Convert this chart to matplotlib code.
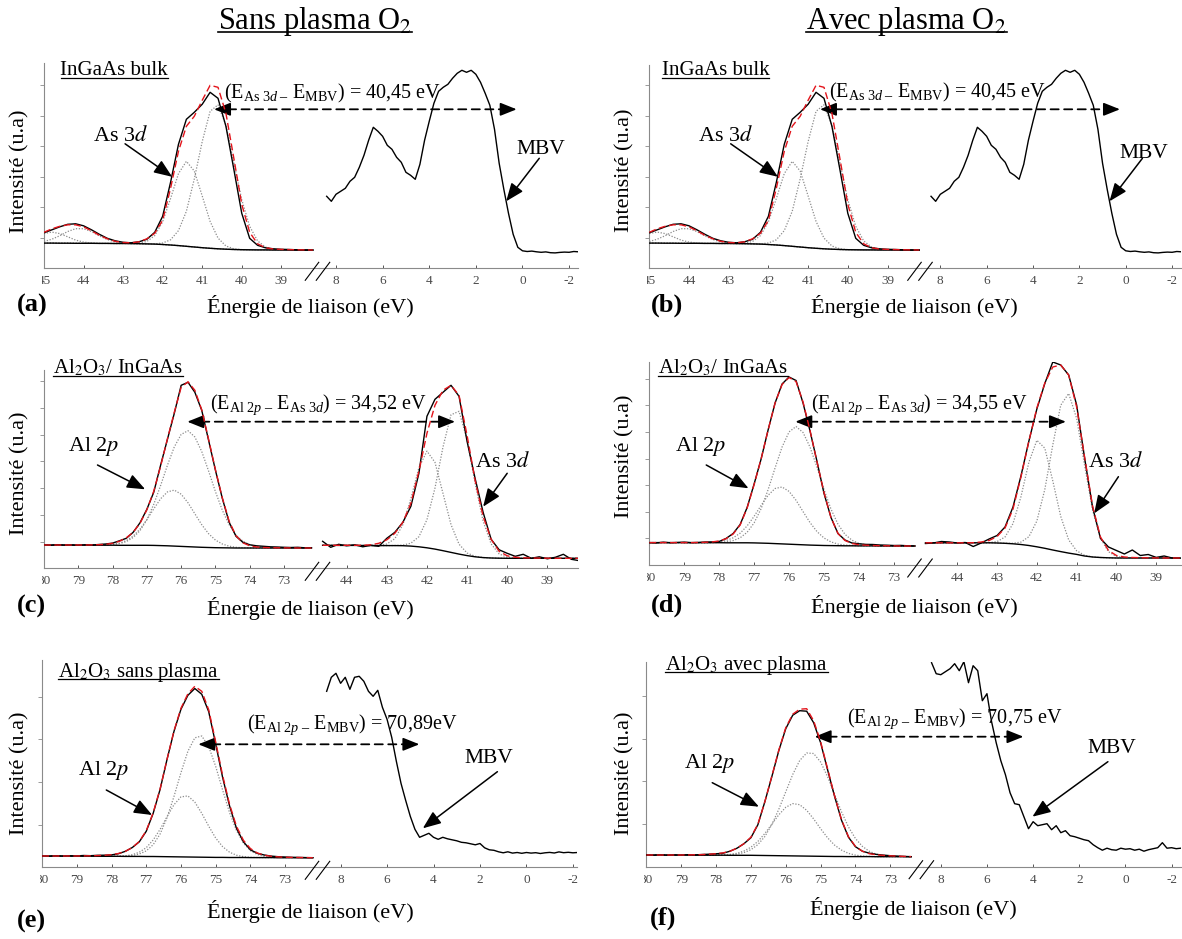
import numpy as np
import matplotlib
matplotlib.use("Agg")
import matplotlib.pyplot as plt
from matplotlib.lines import Line2D
from matplotlib.transforms import IdentityTransform, Bbox

plt.rcParams.update({
    "font.family": ["Liberation Serif", "DejaVu Serif"],
    "mathtext.fontset": "custom",
    "mathtext.rm": "Liberation Serif",
    "mathtext.it": "Liberation Serif:italic",
    "mathtext.bf": "Liberation Serif:bold",
    "axes.unicode_minus": False,
})

# ---------------------------------------------------------------------------
# XPS data (intensities in arbitrary units)
# ---------------------------------------------------------------------------

# InGaAs bulk reference : As 3d core level
E_AS3D_BULK = np.linspace(45.0, 38.2, 35)
as3d_bulk_raw = [35.5, 38.5, 41.5, 44.0, 44.5, 42.5, 38.5, 34.0, 30.0, 27.5,
                 26.0, 25.5, 26.5, 29.0, 36.0, 52.0, 86.0, 124.0, 149.0, 156.0,
                 164.0, 176.0, 170.0, 142.0, 99.0, 55.0, 30.0, 23.0, 20.5, 19.5,
                 19.0, 18.8, 18.5, 18.3, 18.3]
as3d_bulk_fit = [36.0, 39.5, 42.0, 43.5, 43.5, 41.5, 37.5, 33.0, 29.5, 27.0,
                 25.8, 25.5, 26.5, 29.5, 35.0, 48.0, 80.0, 117.0, 142.0, 152.0,
                 168.0, 183.0, 181.0, 155.0, 110.0, 64.0, 36.0, 24.5, 20.5, 19.3,
                 18.9, 18.7, 18.5, 18.4, 18.3]
as3d_bulk_bg = [25.2, 25.2, 25.1, 25.1, 25.0, 25.0, 25.0, 24.9, 24.9, 24.8,
                24.8, 24.7, 24.6, 24.4, 24.2, 23.8, 23.3, 22.7, 22.0, 21.3,
                20.6, 20.0, 19.5, 19.1, 18.8, 18.6, 18.5, 18.4, 18.4, 18.3,
                18.3, 18.3, 18.2, 18.2, 18.2]
as3d_bulk_d52 = [0, 0, 0, 0, 0, 0, 0, 0, 0, 0, 0, 0, 0, 0.1, 0.3, 1.5, 5.2, 15,
                 35, 68, 106, 137, 144, 124, 87, 50, 23.5, 9, 2.8, 0.7, 0.1,
                 0, 0, 0, 0]
as3d_bulk_d32 = [0, 0, 0, 0, 0, 0, 0, 0, 0, 0, 0, 0.1, 0.6, 2.4, 8.5, 22.7,
                 46.5, 72, 85, 76, 51.8, 26.9, 10.7, 3.2, 0.7, 0.1, 0, 0, 0, 0,
                 0, 0, 0, 0, 0]
as3d_bulk_ox1 = [1.6, 3.9, 7.5, 11.7, 14.6, 14.6, 11.7, 7.5, 3.9, 1.6, 0.5, 0.1,
                 0, 0, 0, 0, 0, 0, 0, 0, 0, 0, 0, 0, 0, 0, 0, 0, 0, 0, 0, 0, 0,
                 0, 0]
as3d_bulk_ox2 = [9.6, 11.0, 9.6, 6.4, 3.2, 1.2, 0.4, 0.1, 0, 0, 0, 0, 0, 0, 0,
                 0, 0, 0, 0, 0, 0, 0, 0, 0, 0, 0, 0, 0, 0, 0, 0, 0, 0, 0, 0]

# InGaAs bulk reference : valence band
E_VB_BULK = np.linspace(8.4, -2.4, 55)
vb_bulk = [72, 67, 74, 77, 80, 87, 91, 101, 113, 128,
           141, 137, 132, 123, 119, 111, 106, 96, 93, 89,
           104, 128, 147, 165, 177, 181, 184, 190, 195, 198,
           196, 198, 194, 186, 175, 163, 139, 105, 79, 55,
           34, 21, 17.5, 16.8, 17.2, 16.5, 16.0, 16.4, 15.6, 15.4,
           15.9, 16.2, 16.0, 16.8, 16.5]

# Al2O3 / InGaAs without plasma : Al 2p
E_AL2P_C = np.linspace(80.0, 72.2, 40)
al2p_c_raw = [23.5, 23.0, 23.6, 23.2, 23.4, 23.0, 23.5, 23.3, 23.8, 24.3,
              25.2, 27.5, 30.0, 36.0, 45.5, 59.0, 76.0, 103.0, 129.0, 155.0,
              183.0, 186.0, 176.0, 158.0, 128.0, 98.0, 70.0, 46.0, 32.0, 26.0,
              23.5, 22.5, 22.0, 21.5, 21.3, 21.0, 20.8, 21.0, 20.5, 20.6]
al2p_c_fit = [23.3, 23.3, 23.3, 23.3, 23.3, 23.3, 23.3, 23.4, 23.6, 24.0,
              25.0, 27.0, 30.5, 36.0, 45.0, 58.5, 77.0, 102.0, 129.5, 156.0,
              181.0, 186.5, 178.0, 158.5, 129.0, 98.5, 70.5, 47.0, 32.5, 25.5,
              22.5, 21.3, 20.8, 20.6, 20.5, 20.4, 20.4, 20.3, 20.3, 20.3]
al2p_c_bg = [23.3, 23.3, 23.3, 23.2, 23.2, 23.2, 23.2, 23.1, 23.1, 23.1,
             23.1, 23.0, 23.0, 23.0, 23.0, 23.0, 22.9, 22.7, 22.5, 22.2,
             21.9, 21.6, 21.3, 21.0, 20.8, 20.6, 20.5, 20.4, 20.3, 20.3,
             20.3, 20.3, 20.3, 20.3, 20.3, 20.3, 20.3, 20.3, 20.3, 20.3]
al2p_c_comp1 = [0, 0, 0, 0, 0, 0, 0, 0, 0, 0.25, 0.7, 1.7, 3.7, 7.8, 14.7,
                25.6, 41, 60, 80.6, 99.2, 112, 116, 110, 95.8, 76.5, 56, 37.6,
                23.1, 13, 6.8, 3.2, 1.4, 0.6, 0.2, 0.1, 0, 0, 0, 0, 0]
al2p_c_comp2 = [0, 0, 0, 0, 0, 0, 0, 0, 0, 0.3, 0.9, 2.2, 4.7, 9.2, 16.2,
                25.6, 36.5, 46.8, 53.9, 56, 52.2, 43.9, 33.2, 22.6, 13.8, 7.6,
                3.8, 1.7, 0.7, 0.3, 0.1, 0, 0, 0, 0, 0, 0, 0, 0, 0]

# Al2O3 / InGaAs without plasma : As 3d
E_AS3D_C = np.linspace(44.6, 38.2, 33)
as3d_c_raw = [27, 21, 24, 22.5, 23.5, 21.5, 23, 22, 30, 36,
              46, 62, 95, 152, 169, 176, 183, 172, 127, 90,
              56, 29, 18.5, 15, 12, 14, 10, 11.5, 9.5, 11,
              14, 9, 7.6]
as3d_c_fit = [23, 23, 23, 23, 23, 23, 23.5, 25, 28.5, 35,
              46, 65, 97, 135, 163, 178, 183, 173, 133, 88,
              52, 29, 17, 12.5, 11, 10.5, 10.3, 10.2, 10.1, 10,
              10, 10, 10]
as3d_c_bg = [23.0, 23.0, 22.9, 22.9, 22.9, 22.8, 22.8, 22.7, 22.7, 22.7,
             22.6, 22.2, 21.5, 20.5, 19.2, 17.6, 15.9, 14.2, 12.7, 11.5,
             10.7, 10.3, 10.1, 10.0, 10.0, 10.0, 10.0, 10.0, 10.0, 10.0,
             10.0, 10.0, 10.0]
as3d_c_d52 = [0, 0, 0, 0, 0, 0, 0, 0, 0, 0.1, 0.6, 2.9, 10.1, 28.1, 61, 103.7,
              137.6, 142.8, 116, 73.5, 36.4, 14.1, 4.3, 1.0, 0.2, 0, 0, 0, 0,
              0, 0, 0, 0]
as3d_c_d32 = [0, 0, 0, 0, 0, 0, 0, 0.3, 1.6, 6.9, 21, 47.6, 79.2, 96.7, 86.8,
              57.3, 27.8, 9.9, 2.6, 0.5, 0.1, 0, 0, 0, 0, 0, 0, 0, 0, 0, 0, 0,
              0]

# Al2O3 / InGaAs with plasma : Al 2p
E_AL2P_D = np.linspace(80.0, 72.4, 39)
al2p_d_raw = [22.3, 22.0, 22.8, 22.2, 22.5, 22.9, 22.4, 22.6, 23.0, 23.1,
              23.5, 26.6, 31.5, 40.5, 57.5, 81.0, 106.0, 135.0, 162.0, 181.0,
              188.0, 184.5, 162.0, 134.0, 103.5, 71.6, 47.5, 31.5, 25.0, 22.0,
              21.2, 20.6, 20.5, 20.0, 19.8, 19.5, 19.6, 19.2, 19.0]
al2p_d_fit = [22.4, 22.4, 22.4, 22.4, 22.4, 22.4, 22.4, 22.5, 22.7, 23.1,
              24.0, 26.3, 31.0, 40.0, 57.0, 80.5, 106.0, 135.0, 162.0, 180.5,
              187.5, 183.5, 163.0, 134.5, 103.0, 72.5, 47.5, 31.5, 24.5, 21.5,
              20.3, 19.8, 19.5, 19.3, 19.2, 19.1, 19.0, 19.0, 19.0]
al2p_d_bg = [22.4, 22.4, 22.4, 22.4, 22.4, 22.3, 22.3, 22.3, 22.3, 22.3,
             22.3, 22.2, 22.2, 22.2, 22.2, 22.1, 21.9, 21.7, 21.4, 21.1,
             20.8, 20.5, 20.2, 19.9, 19.7, 19.5, 19.4, 19.3, 19.2, 19.2,
             19.1, 19.1, 19.1, 19.0, 19.0, 19.0, 19.0, 19.0, 19.0]
al2p_d_comp1 = [0, 0, 0, 0, 0, 0, 0, 0, 0, 0, 0.3, 0.9, 2.2, 5.0, 10.5, 20,
                34.4, 53.6, 75.7, 96.9, 112.3, 118, 112.3, 98, 78, 56, 36.5,
                21.5, 11.5, 5.6, 2.5, 1.0, 0.4, 0, 0, 0, 0, 0, 0]
al2p_d_comp2 = [0, 0, 0, 0, 0, 0, 0, 0, 0, 0.4, 1.0, 2.3, 5.0, 9.6, 16.9,
                26.6, 37.7, 48, 55.1, 56.9, 52.8, 44.2, 33.2, 22.5, 13.7, 7.5,
                3.7, 1.6, 0.7, 0.3, 0.1, 0, 0, 0, 0, 0, 0, 0, 0]

# Al2O3 / InGaAs with plasma : As 3d
E_AS3D_D = np.linspace(44.8, 38.4, 33)
as3d_d_raw = [21.5, 22.0, 23.5, 23.0, 22.0, 22.5, 18.5, 22.0, 26.0, 29.5,
              38.0, 58.0, 89.0, 124.0, 156.0, 181.5, 203.0, 200.0, 190.0, 160.0,
              107.0, 58.0, 26.5, 18.0, 14.5, 11.0, 15.0, 9.5, 10.5, 7.6,
              9.0, 7.0, 6.8]
as3d_d_fit = [22.2, 22.2, 22.2, 22.2, 22.2, 22.2, 22.3, 23.0, 24.5, 28.5,
              37.0, 56.0, 88.0, 124.0, 157.0, 182.0, 198.0, 200.0, 190.0, 158.0,
              108.0, 59.0, 28.0, 14.5, 9.5, 8.0, 7.5, 7.3, 7.2, 7.1,
              7.0, 7.0, 7.0]
as3d_d_bg = [22.2, 22.2, 22.2, 22.2, 22.2, 22.2, 22.2, 22.2, 22.2, 22.0,
             21.7, 21.2, 20.5, 19.5, 18.2, 16.7, 15.0, 13.4, 11.9, 10.6,
             9.0, 8.0, 7.5, 7.2, 7.0, 7.0, 7.0, 7.0, 7.0, 7.0,
             7.0, 7.0, 7.0]
as3d_d_d52 = [0, 0, 0, 0, 0, 0, 0, 0, 0, 0, 0.1, 0.5, 2.4, 8.8, 25.8, 58.9,
              105, 146.4, 159.6, 136, 90.6, 47.2, 19.2, 6.1, 1.5, 0.3, 0, 0,
              0, 0, 0, 0, 0]
as3d_d_d32 = [0, 0, 0, 0, 0, 0, 0, 0, 0.2, 1.4, 6.3, 20.2, 47.8, 83.3, 106.5,
              100.1, 69.2, 35.2, 13.2, 3.6, 0.7, 0.1, 0, 0, 0, 0, 0, 0, 0, 0,
              0, 0, 0]

# Al2O3 without plasma : Al 2p
E_AL2P_E = np.linspace(80.0, 72.2, 40)
al2p_e_raw = [11.3, 11.0, 11.6, 11.2, 11.5, 11.4, 11.8, 11.6, 12.0, 12.1,
              12.4, 13.6, 16.0, 19.8, 25.5, 36.0, 54.0, 78.0, 108.0, 136.0,
              158.0, 172.0, 178.8, 173.0, 155.6, 123.5, 90.0, 61.5, 39.0, 25.5,
              17.5, 14.0, 12.3, 11.2, 10.6, 10.3, 10.0, 9.9, 9.7, 9.6]
al2p_e_fit = [11.3, 11.3, 11.3, 11.3, 11.3, 11.3, 11.4, 11.5, 11.7, 12.0,
              12.6, 13.8, 16.0, 19.8, 25.8, 36.5, 54.5, 78.5, 108.0, 136.5,
              159.0, 173.5, 181.0, 176.0, 157.5, 125.5, 92.0, 63.0, 41.0, 27.0,
              18.8, 14.3, 12.1, 11.0, 10.4, 10.1, 9.9, 9.8, 9.7, 9.6]
al2p_e_bg = [11.3, 11.3, 11.2, 11.2, 11.2, 11.1, 11.1, 11.1, 11.0, 11.0,
             11.0, 11.0, 10.9, 10.9, 10.9, 10.8, 10.8, 10.7, 10.6, 10.5,
             10.4, 10.3, 10.2, 10.1, 10.0, 9.9, 9.9, 9.8, 9.8, 9.8,
             9.7, 9.7, 9.7, 9.7, 9.6, 9.6, 9.6, 9.6, 9.6, 9.6]
al2p_e_comp1 = [0, 0, 0, 0, 0, 0, 0, 0, 0, 0, 0, 0.1, 0.3, 0.9, 2.4, 5.6, 11.8,
                22.6, 39, 60.4, 84.2, 105.7, 119.3, 121.2, 110.8, 91.1, 67.5,
                44.9, 27, 14.5, 7.0, 3.1, 1.2, 0.4, 0.1, 0, 0, 0, 0, 0]
al2p_e_comp2 = [0, 0, 0, 0, 0, 0, 0, 0, 0, 0, 0.1, 0.2, 0.6, 1.7, 4.2, 8.8,
                16.5, 27.3, 40.1, 52.1, 60, 61.1, 55, 43.9, 31.1, 19.4, 10.8,
                5.3, 2.3, 0.9, 0.3, 0.1, 0, 0, 0, 0, 0, 0, 0, 0]

# Al2O3 without plasma : valence band
E_VB_E = np.linspace(8.6, -2.2, 55)
vb_e = [176, 190, 194, 184, 190, 178, 190, 191, 186, 176,
        171, 177, 160, 148, 130, 106, 84, 67, 51, 38,
        30, 32, 34, 30, 28, 30, 28.5, 27.5, 26.5, 25,
        24.5, 23.5, 22.5, 23.8, 19.5, 17.5, 17, 15.5, 14.5, 15.5,
        14.2, 14.8, 14.0, 14.8, 14.2, 14.6, 13.8, 14.5, 14.9, 14.3,
        15.4, 14.6, 15.0, 14.5, 14.8]

# Al2O3 with plasma : Al 2p
E_AL2P_F = np.linspace(80.0, 72.4, 39)
al2p_f_raw = [11.7, 11.4, 11.9, 11.5, 11.8, 11.6, 12.0, 11.8, 12.2, 12.5,
              12.9, 13.5, 15.5, 18.5, 23.0, 29.0, 42.0, 65.0, 90.0, 116.0,
              138.0, 151.5, 156.0, 155.5, 144.0, 124.0, 97.0, 70.5, 46.5, 29.5,
              20.0, 15.5, 13.5, 12.3, 11.6, 11.0, 10.6, 10.3, 10.0]
al2p_f_fit = [11.7, 11.7, 11.7, 11.7, 11.7, 11.7, 11.8, 11.9, 12.1, 12.5,
              13.0, 13.8, 15.5, 18.5, 23.0, 29.5, 42.5, 65.0, 90.5, 116.5,
              139.0, 152.5, 157.5, 158.0, 146.0, 125.0, 98.0, 71.0, 47.0, 30.0,
              20.3, 15.4, 13.0, 11.9, 11.3, 10.9, 10.6, 10.3, 10.1]
al2p_f_bg = [11.7, 11.7, 11.7, 11.6, 11.6, 11.6, 11.6, 11.5, 11.5, 11.5,
             11.5, 11.5, 11.4, 11.4, 11.4, 11.4, 11.3, 11.2, 11.1, 11.0,
             10.9, 10.8, 10.7, 10.6, 10.5, 10.4, 10.3, 10.2, 10.2, 10.1,
             10.1, 10.1, 10.1, 10.0, 10.0, 10.0, 10.0, 10.0, 10.0]
al2p_f_comp1 = [0, 0, 0, 0, 0, 0, 0, 0, 0, 0, 0, 0.2, 0.5, 1.2, 2.7, 5.6, 10.8,
                19.0, 31.0, 46.4, 64.0, 81.4, 95.5, 103.1, 102.7, 94.3, 79.8,
                62.2, 44.7, 29.6, 18.1, 10.2, 5.3, 2.5, 1.1, 0.4, 0.2, 0.1, 0]
al2p_f_comp2 = [0, 0, 0, 0, 0, 0, 0, 0, 0, 0, 0.2, 0.4, 0.9, 2.0, 4.3, 8.1,
                14.0, 22.0, 31.4, 40.9, 48.5, 52.3, 51.3, 45.8, 37.3, 27.6,
                18.6, 11.4, 6.4, 3.2, 1.5, 0.6, 0.2, 0, 0, 0, 0, 0, 0]

# Al2O3 with plasma : valence band
E_VB_F = np.linspace(8.4, -2.4, 55)
vb_f = [204, 193, 192, 195, 198, 203, 196, 205, 184, 201,
        196, 166, 173, 145, 124, 106, 92, 74, 63, 62,
        50, 38, 45, 41, 42, 43, 37, 41, 34, 36,
        31, 30, 28.5, 27, 26, 22, 19, 16.5, 18.5, 17,
        16.5, 18.5, 17.5, 18, 16.5, 17.5, 15.5, 17, 18, 19,
        24, 18.5, 19, 18, 18.5]

# Peak / valence-band-maximum positions (eV) used for the energy separations
E_AS3D_BULK_PEAK, E_MBV_BULK = 40.70, 0.25
E_AL2P_C_PEAK, E_AS3D_C_PEAK = 75.82, 41.30
E_AL2P_D_PEAK, E_AS3D_D_PEAK = 75.82, 41.27
E_AL2P_E_PEAK, E_MBV_E = 75.50, 4.61
E_AL2P_F_PEAK, E_MBV_F = 75.17, 4.42

AS3D_TICKS_BULK = [45, 44, 43, 42, 41, 40, 39]
VB_TICKS = [8, 6, 4, 2, 0, -2]
AL2P_TICKS = [80, 79, 78, 77, 76, 75, 74, 73]
AS3D_TICKS = [44, 43, 42, 41, 40, 39]

# ---------------------------------------------------------------------------
# Figure layout (pixel geometry of each broken-axis panel)
# ---------------------------------------------------------------------------
W, H = 1182, 939
fig = plt.figure(figsize=(W / 100, H / 100), dpi=100)
fig.patch.set_facecolor("white")
renderer = fig.canvas.get_renderer()

PANELS = {
    "a": dict(spine=44.0, join=318.75, end=578.0, top=63.0, bot=268.3,
              lref=(45, 44.0, 39.55), rref=(8, 336.0, 23.31), ystep=30.5),
    "b": dict(spine=649.3, join=921.25, end=1180.8, top=65.0, bot=268.3,
              lref=(45, 649.3, 39.7), rref=(8, 940.3, 23.18), ystep=30.5),
    "c": dict(spine=44.0, join=318.75, end=578.0, top=370.0, bot=568.3,
              lref=(80, 44.0, 34.29), rref=(44, 346.7, 40.12), ystep=26.7),
    "d": dict(spine=649.3, join=921.25, end=1180.8, top=361.7, bot=565.0,
              lref=(80, 649.3, 34.94), rref=(44, 957.3, 39.78), ystep=26.6),
    "e": dict(spine=42.1, join=318.75, end=577.1, top=660.0, bot=867.3,
              lref=(80, 42.1, 34.71), rref=(8, 340.6, 23.23), ystep=42.7),
    "f": dict(spine=646.4, join=922.6, end=1180.9, top=661.7, bot=866.7,
              lref=(80, 646.4, 34.84), rref=(8, 940.8, 23.08), ystep=42.7),
}

AXIS_GREY = "#8a8a8a"
COMP_GREY = "#8c8c8c"
FIT_RED = "#e3141b"


def fig_text(x, y, s, **kw):
    return fig.text(x / W, 1 - y / H, s, **kw)


def add_axes_px(x0, x1, y_top, y_bot):
    return fig.add_axes([x0 / W, 1 - y_bot / H, (x1 - x0) / W, (y_bot - y_top) / H])


def broken_panel(key, left_ticks, right_ticks):
    p = PANELS[key]
    axl = add_axes_px(p["spine"], p["join"], p["top"], p["bot"])
    axr = add_axes_px(p["join"], p["end"], p["top"], p["bot"])
    v, px, s = p["lref"]
    axl.set_xlim(v + (px - p["spine"]) / s, v - (p["join"] - px) / s)
    v, px, s = p["rref"]
    axr.set_xlim(v + (px - p["join"]) / s, v - (p["end"] - px) / s)
    ymax = p["bot"] - p["top"]
    for ax, ticks in ((axl, left_ticks), (axr, right_ticks)):
        ax.set_facecolor("none")
        ax.set_ylim(0, ymax)
        ax.spines["top"].set_visible(False)
        ax.spines["right"].set_visible(False)
        ax.spines["bottom"].set_color(AXIS_GREY)
        ax.spines["bottom"].set_linewidth(0.8)
        ax.set_xticks(ticks)
        ax.set_xticklabels([f"{t:g}" for t in ticks])
        ax.tick_params(axis="x", direction="in", length=2.5, width=0.7,
                       color="#555555", labelsize=9.5, labelcolor="#4a4a4a", pad=5)
    axl.spines["left"].set_color(AXIS_GREY)
    axl.spines["left"].set_linewidth(0.8)
    axl.set_yticks(np.arange(p["ystep"], ymax, p["ystep"]))
    axl.set_yticklabels([])
    axl.tick_params(axis="y", direction="out", length=3, width=0.6, color=AXIS_GREY)
    axr.spines["left"].set_visible(False)
    axr.set_yticks([])
    # the first label sits on the frame edge and is cut by it
    first = axl.xaxis.get_major_ticks()[0].label1
    first.set_clip_box(Bbox([[p["spine"] - 2.0, 0], [W, H]]))
    first.set_clip_on(True)
    # axis-break marks
    xj, yb = p["join"], p["bot"]
    for dx in (-13.5, -2.5):
        fig.add_artist(Line2D([xj + dx, xj + dx + 13.5], [H - (yb + 12), H - (yb - 6)],
                              transform=IdentityTransform(), color="black", lw=0.8))
    return axl, axr


def draw_core(ax, energy, raw, fit, bg, comps):
    bg = np.asarray(bg, dtype=float)
    for c in comps:
        ax.plot(energy, bg + np.asarray(c, dtype=float), color=COMP_GREY, lw=0.9,
                ls=(0, (1, 1.3)), zorder=2)
    ax.plot(energy, bg, color="black", lw=1.0, zorder=3)
    ax.plot(energy, raw, color="black", lw=1.0, zorder=4)
    ax.plot(energy, fit, color=FIT_RED, lw=1.0, ls=(0, (5, 2.5)), zorder=5)


def draw_vb(ax, energy, raw):
    ax.plot(energy, raw, color="black", lw=1.0, zorder=4)


ARROW = dict(arrowstyle="-|>,head_length=0.55,head_width=0.22", color="black",
             lw=1.1, shrinkA=0, shrinkB=0, mutation_scale=20)
HEAD = dict(arrowstyle="-|>,head_length=0.5,head_width=0.2", color="black",
            lw=1.2, shrinkA=0, shrinkB=0, mutation_scale=20)
HEAD_PT = 10.0


def pointer(ax, tail, head):
    ax.annotate("", xy=head, xytext=tail, xycoords="data", textcoords="data",
                arrowprops=ARROW, annotation_clip=False)


def separation(axl, xl, axr, xr, y):
    axl.annotate("", xy=(xr, y), xycoords=axr.transData, xytext=(xl, y),
                 textcoords=axl.transData, annotation_clip=False,
                 arrowprops=dict(arrowstyle="-", color="black", lw=1.3,
                                 linestyle=(0, (4.5, 3)), shrinkA=HEAD_PT,
                                 shrinkB=HEAD_PT))
    axl.annotate("", xy=(xl, y), xytext=(HEAD_PT, 0), textcoords="offset points",
                 arrowprops=HEAD, annotation_clip=False)
    axr.annotate("", xy=(xr, y), xytext=(-HEAD_PT, 0), textcoords="offset points",
                 arrowprops=HEAD, annotation_clip=False)


def underlined(x, ybase, s, size, lw, gap, ha="left"):
    t = fig_text(x, ybase, s, fontsize=size, va="baseline", ha=ha, math_fontfamily="stix")
    bb = t.get_window_extent(renderer=renderer)
    yl = H - ybase - gap
    fig.add_artist(Line2D([bb.x0, bb.x1], [yl, yl], transform=IdentityTransform(),
                          color="black", lw=lw))
    return t


def fmt_ev(value, space=True):
    return f"{value:.2f}".replace(".", ",") + (" eV" if space else "eV")


def delta_label(x, y, sub1, sub2, value, space=True):
    s = (r"(E$_{" + sub1 + r"\ \mathrm{–}}$ E$_{" + sub2 + r"}$) = " + fmt_ev(value, space))
    fig_text(x, y, s, ha="left", va="center", fontsize=14.5, math_fontfamily="custom")


def common_labels(tag, tag_xy, xlab_xy, ylab_xy):
    fig_text(*tag_xy, tag, fontsize=19, fontweight="bold", ha="left", va="center")
    fig_text(*xlab_xy, "Énergie de liaison (eV)", fontsize=16, ha="center", va="center")
    fig_text(*ylab_xy, "Intensité (u.a)", fontsize=16, rotation=90, ha="center", va="center")


AS3D_SUB = r"\mathrm{As\ 3}\mathit{d}"
AL2P_SUB = r"\mathrm{Al\ 2}\mathit{p}"
MBV_SUB = r"\mathrm{MBV}"

# Column headers
underlined(314.7, 29, r"Sans plasma O$_2$", 22, 1.2, 3.0, ha="center")
underlined(906.4, 29, r"Avec plasma O$_2$", 22, 1.2, 3.0, ha="center")

# ---------------- (a) and (b) : InGaAs bulk ----------------
for key, dx_fig, tag_xy, xlab_xy, ylab_xy, lab_x, eq_x, eq_y, mbv_xy in (
        ("a", 0.0, (17, 305), (310, 306.7), (20, 171.5), 60.5, 224.0, 93.3, (540.6, 149.0)),
        ("b", 605.3, (650.4, 305), (914.5, 306.7), (625, 170.5), 661.7, 828.6, 92.0,
         (1144.0, 153.0))):
    axl, axr = broken_panel(key, AS3D_TICKS_BULK, VB_TICKS)
    draw_core(axl, E_AS3D_BULK, as3d_bulk_raw, as3d_bulk_fit, as3d_bulk_bg,
              [as3d_bulk_ox2, as3d_bulk_ox1, as3d_bulk_d32, as3d_bulk_d52])
    draw_vb(axr, E_VB_BULK, vb_bulk)
    underlined(lab_x, 75.4, "InGaAs bulk", 15, 0.9, 2.2)
    fig_text(120.5 + dx_fig, 136.0, r"As 3$\mathit{d}$", fontsize=16, ha="center",
             va="center", math_fontfamily="stix")
    pointer(axl, (42.95, 124.5), (41.76, 91.5))
    fig_text(*mbv_xy, "MBV", fontsize=15.5, ha="center", va="center")
    pointer(axr, (-0.72, 110.0), (0.70, 67.0))
    separation(axl, E_AS3D_BULK_PEAK, axr, E_MBV_BULK, 159.0)
    delta_label(eq_x, eq_y, AS3D_SUB, MBV_SUB, E_AS3D_BULK_PEAK - E_MBV_BULK)
    common_labels(f"({key})", tag_xy, xlab_xy, ylab_xy)

# ---------------- (c) : Al2O3 / InGaAs without plasma ----------------
axl, axr = broken_panel("c", AL2P_TICKS, AS3D_TICKS)
draw_core(axl, E_AL2P_C, al2p_c_raw, al2p_c_fit, al2p_c_bg, [al2p_c_comp2, al2p_c_comp1])
draw_core(axr, E_AS3D_C, as3d_c_raw, as3d_c_fit, as3d_c_bg, [as3d_c_d32, as3d_c_d52])
underlined(52.8, 373.5, r"Al$_2$O$_3$/ InGaAs", 15, 0.9, 2.2)
fig_text(93.8, 446.7, r"Al 2$\mathit{p}$", fontsize=16, ha="center", va="center",
         math_fontfamily="stix")
pointer(axl, (78.44, 103.3), (77.05, 79.0))
fig_text(502.3, 461.7, r"As 3$\mathit{d}$", fontsize=16, ha="center", va="center",
         math_fontfamily="stix")
pointer(axr, (40.0, 95.0), (40.6, 61.6))
separation(axl, E_AL2P_C_PEAK, axr, E_AS3D_C_PEAK, 146.6)
delta_label(209.7, 405.0, AL2P_SUB, AS3D_SUB, E_AL2P_C_PEAK - E_AS3D_C_PEAK)
common_labels("(c)", (17, 606.7), (310, 608), (20, 473))

# ---------------- (d) : Al2O3 / InGaAs with plasma ----------------
axl, axr = broken_panel("d", AL2P_TICKS, AS3D_TICKS)
draw_core(axl, E_AL2P_D, al2p_d_raw, al2p_d_fit, al2p_d_bg, [al2p_d_comp2, al2p_d_comp1])
draw_core(axr, E_AS3D_D, as3d_d_raw, as3d_d_fit, as3d_d_bg, [as3d_d_d32, as3d_d_d52])
underlined(658.0, 373.5, r"Al$_2$O$_3$/ InGaAs", 15, 0.9, 2.2)
fig_text(700.8, 446.7, r"Al 2$\mathit{p}$", fontsize=16, ha="center", va="center",
         math_fontfamily="stix")
pointer(axl, (78.37, 100.0), (77.16, 76.7))
fig_text(1115.3, 461.7, r"As 3$\mathit{d}$", fontsize=16, ha="center", va="center",
         math_fontfamily="stix")
pointer(axr, (39.95, 88.3), (40.56, 51.6))
separation(axl, E_AL2P_D_PEAK, axr, E_AS3D_D_PEAK, 143.3)
delta_label(810.8, 405.0, AL2P_SUB, AS3D_SUB, E_AL2P_D_PEAK - E_AS3D_D_PEAK)
common_labels("(d)", (650.4, 605), (914.5, 606.7), (625, 456.7))

# ---------------- (e) : Al2O3 without plasma ----------------
axl, axr = broken_panel("e", AL2P_TICKS, VB_TICKS)
draw_core(axl, E_AL2P_E, al2p_e_raw, al2p_e_fit, al2p_e_bg, [al2p_e_comp2, al2p_e_comp1])
draw_vb(axr, E_VB_E, vb_e)
underlined(58.2, 676.5, r"Al$_2$O$_3$ sans plasma", 15, 0.9, 2.2)
fig_text(103.3, 770.0, r"Al 2$\mathit{p}$", fontsize=16, ha="center", va="center",
         math_fontfamily="stix")
pointer(axl, (78.15, 77.3), (76.83, 52.3))
fig_text(488.9, 758.3, "MBV", fontsize=15.5, ha="center", va="center")
pointer(axr, (1.25, 95.6), (4.46, 39.0))
separation(axl, E_AL2P_E_PEAK, axr, E_MBV_E, 123.0)
delta_label(246.8, 725.0, AL2P_SUB, MBV_SUB, E_AL2P_E_PEAK - E_MBV_E, space=False)
common_labels("(e)", (17, 921.7), (310, 911.7), (20, 773))

# ---------------- (f) : Al2O3 with plasma ----------------
axl, axr = broken_panel("f", AL2P_TICKS, VB_TICKS)
draw_core(axl, E_AL2P_F, al2p_f_raw, al2p_f_fit, al2p_f_bg, [al2p_f_comp2, al2p_f_comp1])
draw_vb(axr, E_VB_F, vb_f)
underlined(665.0, 670.0, r"Al$_2$O$_3$ avec plasma", 15, 0.9, 2.2)
fig_text(709.8, 763.3, r"Al 2$\mathit{p}$", fontsize=16, ha="center", va="center",
         math_fontfamily="stix")
pointer(axl, (78.11, 84.0), (76.77, 60.0))
fig_text(1112.3, 748.3, "MBV", fontsize=15.5, ha="center", va="center")
pointer(axr, (0.76, 105.0), (4.03, 50.0))
separation(axl, E_AL2P_F_PEAK, axr, E_MBV_F, 130.0)
delta_label(846.8, 718.3, AL2P_SUB, MBV_SUB, E_AL2P_F_PEAK - E_MBV_F)
common_labels("(f)", (650, 918.3), (913.7, 908.3), (625, 773))

fig.savefig("out.png", dpi=100)
